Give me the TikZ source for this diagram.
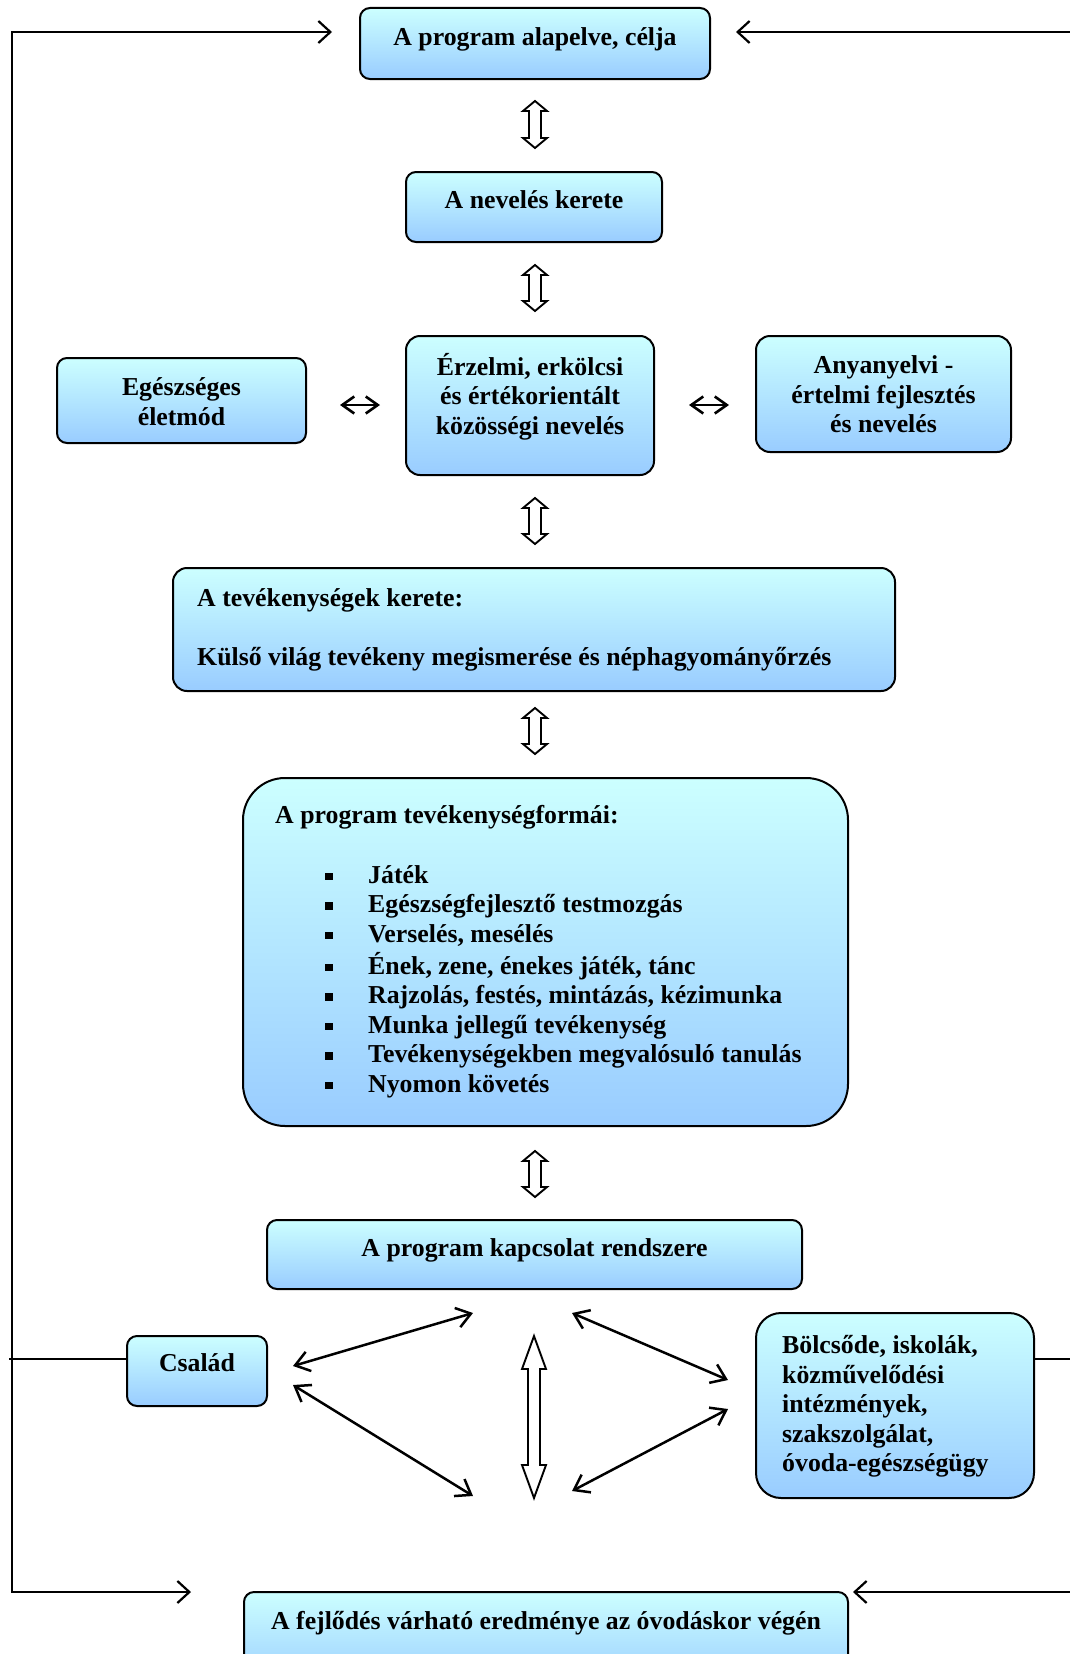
\documentclass[tikz,border=0pt]{standalone}
\usepackage{fontspec}
\setmainfont{Liberation Serif}
\usetikzlibrary{arrows.meta}
\definecolor{boxtop}{RGB}{204,255,255}
\definecolor{boxbot}{RGB}{153,204,255}
\newcommand\lstrut{\rule[-8.6pt]{0pt}{29.6pt}}
\newcommand\bul{\makebox[43pt][l]{\raisebox{3pt}{\rule{7.5pt}{7.5pt}}}}
\newcommand\vdarrow[4]{% x, ytop, ybot, head length
  \draw[hollow] (#1,#2) -- ({#1+12},{#2+#4}) -- ({#1+6},{#2+#4}) -- ({#1+6},{#3-#4})
    -- ({#1+12},{#3-#4}) -- (#1,#3) -- ({#1-12},{#3-#4}) -- ({#1-6},{#3-#4})
    -- ({#1-6},{#2+#4}) -- ({#1-12},{#2+#4}) -- cycle;}
\tikzset{
  box/.style={draw=black, line width=2pt, rounded corners=10pt, top color=boxtop, bottom color=boxbot, inner sep=0pt},
  txt/.style={font={\bfseries\fontsize{25.8pt}{29.6pt}\selectfont}, align=center, inner sep=0pt},
  conn/.style={line width=2.2pt, draw=black},
  hollow/.style={line width=1.9pt, draw=black, fill=white, line join=miter},
  loopar/.style={{Straight Barb[length=12pt,width=22pt]}-{Straight Barb[length=12pt,width=22pt]}},
  crossar/.style={line width=2.5pt, {Straight Barb[length=14pt,width=20pt]}-{Straight Barb[length=14pt,width=20pt]}},
  smallar/.style={line width=2.6pt, {Straight Barb[length=12pt,width=17pt]}-{Straight Barb[length=12pt,width=17pt]}},
}
\begin{document}
\begin{tikzpicture}[x=1pt,y=-1pt]
\useasboundingbox (0,0) rectangle (1070,1654);
% boxes
\node[box, minimum width=350pt, minimum height=71pt] (b1) at (535,43.5) {};
\node[box, minimum width=256pt, minimum height=70pt] (b2) at (534,207) {};
\node[box, minimum width=249pt, minimum height=85pt] (b3) at (181.5,400.5) {};
\node[box, rounded corners=14pt, minimum width=248pt, minimum height=139pt] (b4) at (530,405.5) {};
\node[box, rounded corners=14pt, minimum width=255pt, minimum height=116pt] (b5) at (883.5,394) {};
\node[box, rounded corners=14pt, minimum width=722pt, minimum height=123pt] (b6) at (534,629.5) {};
\node[box, rounded corners=42pt, minimum width=605pt, minimum height=348pt] (b7) at (545.5,952) {};
\node[box, minimum width=535pt, minimum height=69pt] (b8) at (534.5,1254.5) {};
\node[box, minimum width=140pt, minimum height=70pt] (b9) at (197,1371) {};
\node[box, rounded corners=25pt, minimum width=278pt, minimum height=185pt] (b10) at (895,1405.5) {};
\node[box, minimum width=604pt, minimum height=96pt] (b11) at (546,1640) {};
% texts
\node[txt] (t1) at (535,39) {\lstrut A program alapelve, célja};
\node[txt] (t2) at (534,202) {\lstrut A nevelés kerete};
\node[txt] (t3) at (181.5,404) {\lstrut Egészséges\\\lstrut életmód};
\node[txt] (t4) at (530,398) {\lstrut Érzelmi, erkölcsi\\\lstrut és értékorientált\\\lstrut közösségi nevelés};
\node[txt] (t5) at (883.5,397) {\lstrut Anyanyelvi -\\\lstrut értelmi fejlesztés\\\lstrut és nevelés};
\node[txt, align=left, anchor=west] (t6) at (197,630) {\lstrut A tevékenységek kerete:\\\lstrut\\\lstrut Külső világ tevékeny megismerése és néphagyományőrzés};
\node[txt, align=left, anchor=west] (t7) at (275,952) {\lstrut A program tevékenységformái:\\
\lstrut\\
\lstrut\hspace*{50pt}\bul Játék\\
\lstrut\hspace*{50pt}\bul Egészségfejlesztő testmozgás\\
\lstrut\hspace*{50pt}\bul Verselés, mesélés\\
\lstrut\hspace*{50pt}\bul Ének, zene, énekes játék, tánc\\
\lstrut\hspace*{50pt}\bul Rajzolás, festés, mintázás, kézimunka\\
\lstrut\hspace*{50pt}\bul Munka jellegű tevékenység\\
\lstrut\hspace*{50pt}\bul Tevékenységekben megvalósuló tanulás\\
\lstrut\hspace*{50pt}\bul Nyomon követés};
\node[txt] (t8) at (534.5,1250) {\lstrut A program kapcsolat rendszere};
\node[txt] (t9) at (197,1365) {\lstrut Család};
\node[txt, align=left, anchor=west] (t10) at (782,1406.5) {\lstrut Bölcsőde, iskolák,\\\lstrut közművelődési\\\lstrut intézmények,\\\lstrut szakszolgálat,\\\lstrut óvoda-egészségügy};
\node[txt] (t11) at (546,1623) {\lstrut A fejlődés várható eredménye az óvodáskor végén};
% hollow vertical double arrows
\vdarrow{535}{101}{148}{10}
\vdarrow{535}{265}{311}{10}
\vdarrow{535}{498}{544}{10}
\vdarrow{535}{708}{754}{10}
\vdarrow{535}{1151}{1197}{10}
\vdarrow{534}{1336}{1498}{33}
% small horizontal double arrows
\coordinate (sl1) at (340,405); \coordinate (sl2) at (380,405);
\coordinate (sr1) at (689,405); \coordinate (sr2) at (729,405);
\draw[conn, smallar] (sl1) -- (sl2);
\draw[conn, smallar] (sr1) -- (sr2);
% crossing arrows
\coordinate (ca1) at (473,1313); \coordinate (ca2) at (293,1366);
\coordinate (cb1) at (293,1385); \coordinate (cb2) at (473,1496);
\coordinate (cc1) at (572,1313); \coordinate (cc2) at (728,1380);
\coordinate (cd1) at (572,1491); \coordinate (cd2) at (728,1409);
\draw[conn, crossar] (ca1) -- (ca2);
\draw[conn, crossar] (cb1) -- (cb2);
\draw[conn, crossar] (cc1) -- (cc2);
\draw[conn, crossar] (cd1) -- (cd2);
% loop lines
\coordinate (LT) at (12,32); \coordinate (LB) at (12,1592);
\coordinate (TLin) at (332,32); \coordinate (BLin) at (191,1592);
\coordinate (RT) at (1074,32); \coordinate (TRin) at (736,32);
\coordinate (RB) at (1074,1592); \coordinate (BRin) at (853,1592);
\coordinate (LF) at (9,1359); \coordinate (RF) at (1074,1359);
\draw[conn, loopar, line join=miter] (BLin) -- (LB) -- (LT) -- (TLin);
\draw[conn, -{Straight Barb[length=12pt,width=22pt]}] (RT) -- (TRin);
\draw[conn, -{Straight Barb[length=12pt,width=22pt]}] (RB) -- (BRin);
\draw[conn] (LF) -- (LF -| b9.west);
\draw[conn] (RF -| b10.east) -- (RF);
\end{tikzpicture}
\end{document}
